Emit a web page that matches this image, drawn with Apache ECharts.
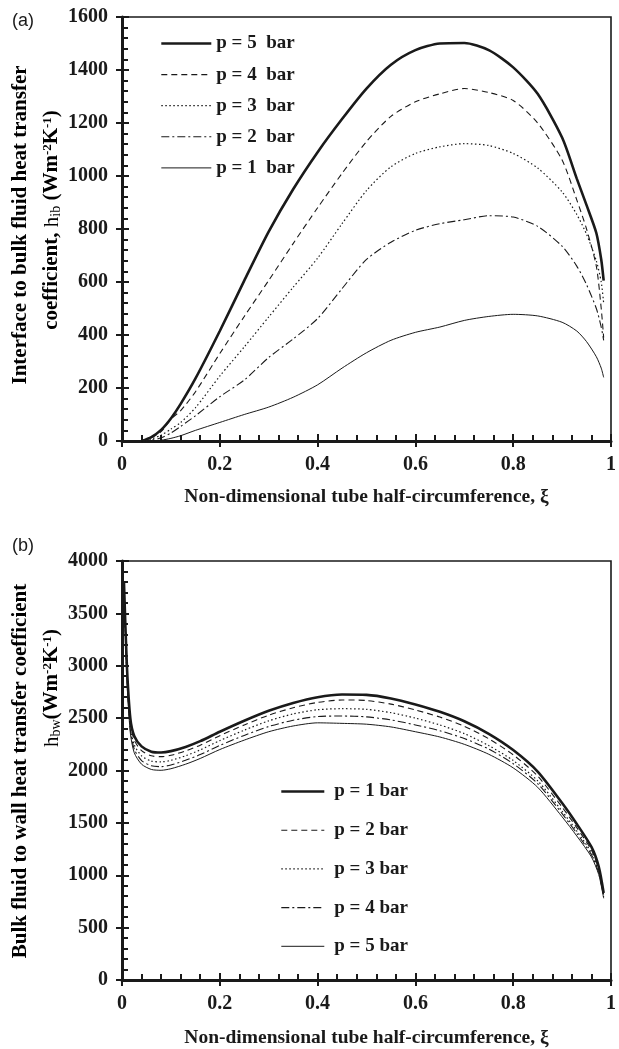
<!DOCTYPE html>
<html><head><meta charset="utf-8">
<script src="https://cdn.jsdelivr.net/npm/echarts@6/dist/echarts.min.js"></script>
<style>html,body{margin:0;padding:0;background:#fff}#c{width:619px;height:1049px}</style>
</head><body><div id="c"></div><script>
// ---- Panel (a): interface to bulk fluid heat transfer coefficient ----
const topXi = [0.04, 0.06, 0.08, 0.1, 0.12, 0.15, 0.2, 0.25, 0.3, 0.35, 0.4, 0.45, 0.5, 0.55, 0.6, 0.65, 0.7, 0.75, 0.8, 0.85, 0.9, 0.93, 0.95, 0.97, 0.98, 0.985];
const topP5 = [0, 15, 42, 85, 140, 235, 415, 605, 790, 950, 1090, 1215, 1330, 1420, 1475, 1500, 1502, 1475, 1410, 1310, 1145, 990, 890, 785, 685, 605];
const topP4 = [0, 12, 35, 82, 115, 185, 330, 470, 606, 745, 880, 1010, 1130, 1225, 1280, 1310, 1330, 1315, 1285, 1200, 1060, 910, 800, 660, 500, 390];
const topP3 = [0, 8, 22, 45, 70, 125, 245, 355, 468, 580, 690, 820, 945, 1035, 1085, 1110, 1122, 1115, 1085, 1030, 940, 855, 780, 680, 600, 520];
const topP2 = [0, 3, 12, 30, 55, 95, 167, 230, 315, 385, 462, 575, 685, 750, 795, 820, 835, 850, 845, 810, 735, 660, 590, 500, 430, 380];
const topP1 = [0, 0, 3, 10, 20, 40, 70, 100, 128, 165, 212, 275, 333, 380, 410, 430, 455, 470, 478, 472, 448, 415, 375, 318, 275, 240];
const topNames = ['p = 5  bar', 'p = 4  bar', 'p = 3  bar', 'p = 2  bar', 'p = 1  bar'];

// ---- Panel (b): bulk fluid to wall heat transfer coefficient ----
const botXi = [0.004, 0.01, 0.017, 0.025, 0.04, 0.06, 0.08, 0.1, 0.13, 0.16, 0.2, 0.25, 0.3, 0.35, 0.4, 0.45, 0.5, 0.55, 0.6, 0.65, 0.7, 0.75, 0.8, 0.85, 0.9, 0.93, 0.96, 0.975, 0.985];
const botP1 = [3800, 3000, 2500, 2330, 2230, 2180, 2172, 2185, 2225, 2280, 2370, 2475, 2570, 2645, 2700, 2725, 2722, 2688, 2630, 2560, 2470, 2350, 2195, 1990, 1690, 1490, 1270, 1080, 830];
const botP2 = [3800, 2970, 2465, 2290, 2190, 2140, 2132, 2145, 2187, 2242, 2332, 2435, 2528, 2599, 2650, 2673, 2668, 2634, 2578, 2510, 2422, 2303, 2150, 1947, 1650, 1455, 1240, 1055, 815];
const botP3 = [3800, 2940, 2425, 2245, 2140, 2090, 2082, 2097, 2140, 2197, 2285, 2385, 2474, 2540, 2580, 2590, 2584, 2552, 2500, 2435, 2352, 2238, 2095, 1902, 1612, 1422, 1215, 1035, 800];
const botP4 = [3800, 2910, 2390, 2205, 2095, 2045, 2037, 2053, 2097, 2152, 2240, 2335, 2420, 2480, 2515, 2520, 2512, 2483, 2435, 2380, 2305, 2205, 2065, 1875, 1588, 1400, 1195, 1020, 790];
const botP5 = [3800, 2880, 2360, 2170, 2060, 2010, 2002, 2017, 2060, 2115, 2200, 2290, 2370, 2425, 2455, 2450, 2442, 2416, 2370, 2320, 2250, 2155, 2025, 1840, 1558, 1375, 1175, 1005, 780];
const botNames = ['p = 1 bar', 'p = 2 bar', 'p = 3 bar', 'p = 4 bar', 'p = 5 bar'];

const xTitle = 'Non-dimensional tube half-circumference, ξ';

const FONT = '"Liberation Serif", "Times New Roman", serif';
const INK = '#1a1a1a';
const zip = (xs, ys) => xs.map((x, i) => [x, ys[i]]);

const styles = {
  thick: { width: 2.6, type: 'solid' },
  dash: { width: 1.1, type: [6, 4] },
  dot: { width: 1.2, type: [1.5, 2.5] },
  dashdot: { width: 1.1, type: [8, 3, 2, 3] },
  thin: { width: 1, type: 'solid' }
};

function mkSeries(name, xs, ys, st, idx) {
  return {
    name, type: 'line', xAxisIndex: idx, yAxisIndex: idx, symbol: 'none', smooth: 0.25,
    data: zip(xs, ys),
    lineStyle: Object.assign({ color: INK }, st),
    itemStyle: { color: INK }
  };
}

const tickLabel = { fontFamily: FONT, fontWeight: 'bold', fontSize: 20, color: INK };

function mkX(grid, main, nameGap) {
  return {
    type: 'value', gridIndex: grid, min: 0, max: 1, interval: 0.2,
    position: 'bottom',
    name: main ? xTitle : '', nameLocation: 'middle', nameGap: nameGap,
    nameTextStyle: { fontFamily: FONT, fontWeight: 'bold', fontSize: 19.5, color: INK },
    axisLine: { show: main, onZero: false, lineStyle: { color: INK, width: 3 } },
    axisTick: { show: true, inside: main, length: main ? 7 : 6, lineStyle: { color: INK, width: 2 } },
    minorTick: { show: main, splitNumber: 5, length: 6, lineStyle: { color: INK, width: 2 } },
    axisLabel: main ? Object.assign({ margin: 14, formatter: v => String(+v.toFixed(1)) }, tickLabel) : { show: false },
    splitLine: { show: false }, minorSplitLine: { show: false }
  };
}
function mkY(grid, main, max, interval) {
  return {
    type: 'value', gridIndex: grid, min: 0, max: max, interval: interval,
    position: 'left',
    axisLine: { show: main, onZero: false, lineStyle: { color: INK, width: 3 } },
    axisTick: { show: true, inside: main, length: main ? 7 : 6, lineStyle: { color: INK, width: 2 } },
    minorTick: { show: main, splitNumber: 5, length: 6, lineStyle: { color: INK, width: 2 } },
    axisLabel: main ? Object.assign({ margin: 14, formatter: v => String(Math.round(v)) }, tickLabel) : { show: false },
    splitLine: { show: false }, minorSplitLine: { show: false }
  };
}

const TF = 21;
const rich = {
  b: { fontFamily: FONT, fontWeight: 'bold', fontSize: TF, color: INK, lineHeight: 22 },
  h: { fontFamily: FONT, fontWeight: 'normal', fontSize: TF, color: INK, lineHeight: 22 },
  i: { fontFamily: FONT, fontWeight: 'normal', fontSize: 14, color: INK, lineHeight: 22, verticalAlign: 'bottom' },
  s: { fontFamily: FONT, fontWeight: 'bold', fontSize: 13, color: INK, verticalAlign: 'top', lineHeight: 22 }
};
function rotText(x, y, text) {
  return {
    type: 'text', x: x, y: y, rotation: Math.PI / 2,
    style: { text: text, rich: rich, align: 'center', verticalAlign: 'middle' }
  };
}

const legendText = { fontFamily: FONT, fontWeight: 'bold', fontSize: 19, color: INK };

const option = {
  backgroundColor: '#fff',
  animation: false,
  grid: [
    { left: 122, right: 4, top: 17, height: 424, show: true, borderColor: INK, borderWidth: 1.6, backgroundColor: 'transparent' },
    { left: 122, right: 4, top: 561, height: 423, show: true, borderColor: INK, borderWidth: 1.6, backgroundColor: 'transparent' }
  ],
  xAxis: [mkX(0, true, 46), mkX(1, true, 48), mkX(0, false, 0), mkX(1, false, 0)],
  yAxis: [mkY(0, true, 1600, 200), mkY(1, true, 4000, 500), mkY(0, false, 1600, 200), mkY(1, false, 4000, 500)],
  legend: [
    {
      data: topNames, orient: 'vertical', left: 155, top: 29, itemWidth: 50, itemHeight: 14, itemGap: 12.1,
      itemStyle: { opacity: 0 },
      lineStyle: { width: 'inherit', type: 'inherit' },
      textStyle: legendText,
      selectedMode: false
    },
    {
      data: botNames, orient: 'vertical', left: 275, top: 777, itemWidth: 43, itemHeight: 14, itemGap: 19.7,
      itemStyle: { opacity: 0 },
      lineStyle: { width: 'inherit', type: 'inherit' },
      textStyle: Object.assign({ padding: [0, 0, 0, 5] }, legendText),
      selectedMode: false
    }
  ],
  graphic: [
    { type: 'text', left: 12, top: 12, style: { text: '(a)', fontFamily: '"Liberation Sans", Arial, sans-serif', fontSize: 18, fill: INK } },
    { type: 'text', left: 12, top: 537, style: { text: '(b)', fontFamily: '"Liberation Sans", Arial, sans-serif', fontSize: 18, fill: INK } },
    rotText(21, 225, '{b|Interface to bulk fluid heat transfer}'),
    rotText(52, 220, '{b|coefficient, }{h|h}{i|ib}{b| (Wm}{s|-2}{b|K}{s|-1}{b|)}'),
    rotText(21, 771, '{b|Bulk fluid to wall heat transfer coefficient}'),
    rotText(52, 688, '{h|h}{i|bw}{b|(Wm}{s|-2}{b|K}{s|-1}{b|)}')
  ],
  series: [
    mkSeries(topNames[0], topXi, topP5, styles.thick, 0),
    mkSeries(topNames[1], topXi, topP4, styles.dash, 0),
    mkSeries(topNames[2], topXi, topP3, styles.dot, 0),
    mkSeries(topNames[3], topXi, topP2, styles.dashdot, 0),
    mkSeries(topNames[4], topXi, topP1, styles.thin, 0),
    mkSeries(botNames[0], botXi, botP1, styles.thick, 1),
    mkSeries(botNames[1], botXi, botP2, styles.dash, 1),
    mkSeries(botNames[2], botXi, botP3, styles.dot, 1),
    mkSeries(botNames[3], botXi, botP4, styles.dashdot, 1),
    mkSeries(botNames[4], botXi, botP5, styles.thin, 1)
  ]
};
const chart = echarts.init(document.getElementById('c'), null, { renderer: 'canvas' });
chart.setOption(option);
</script></body></html>
